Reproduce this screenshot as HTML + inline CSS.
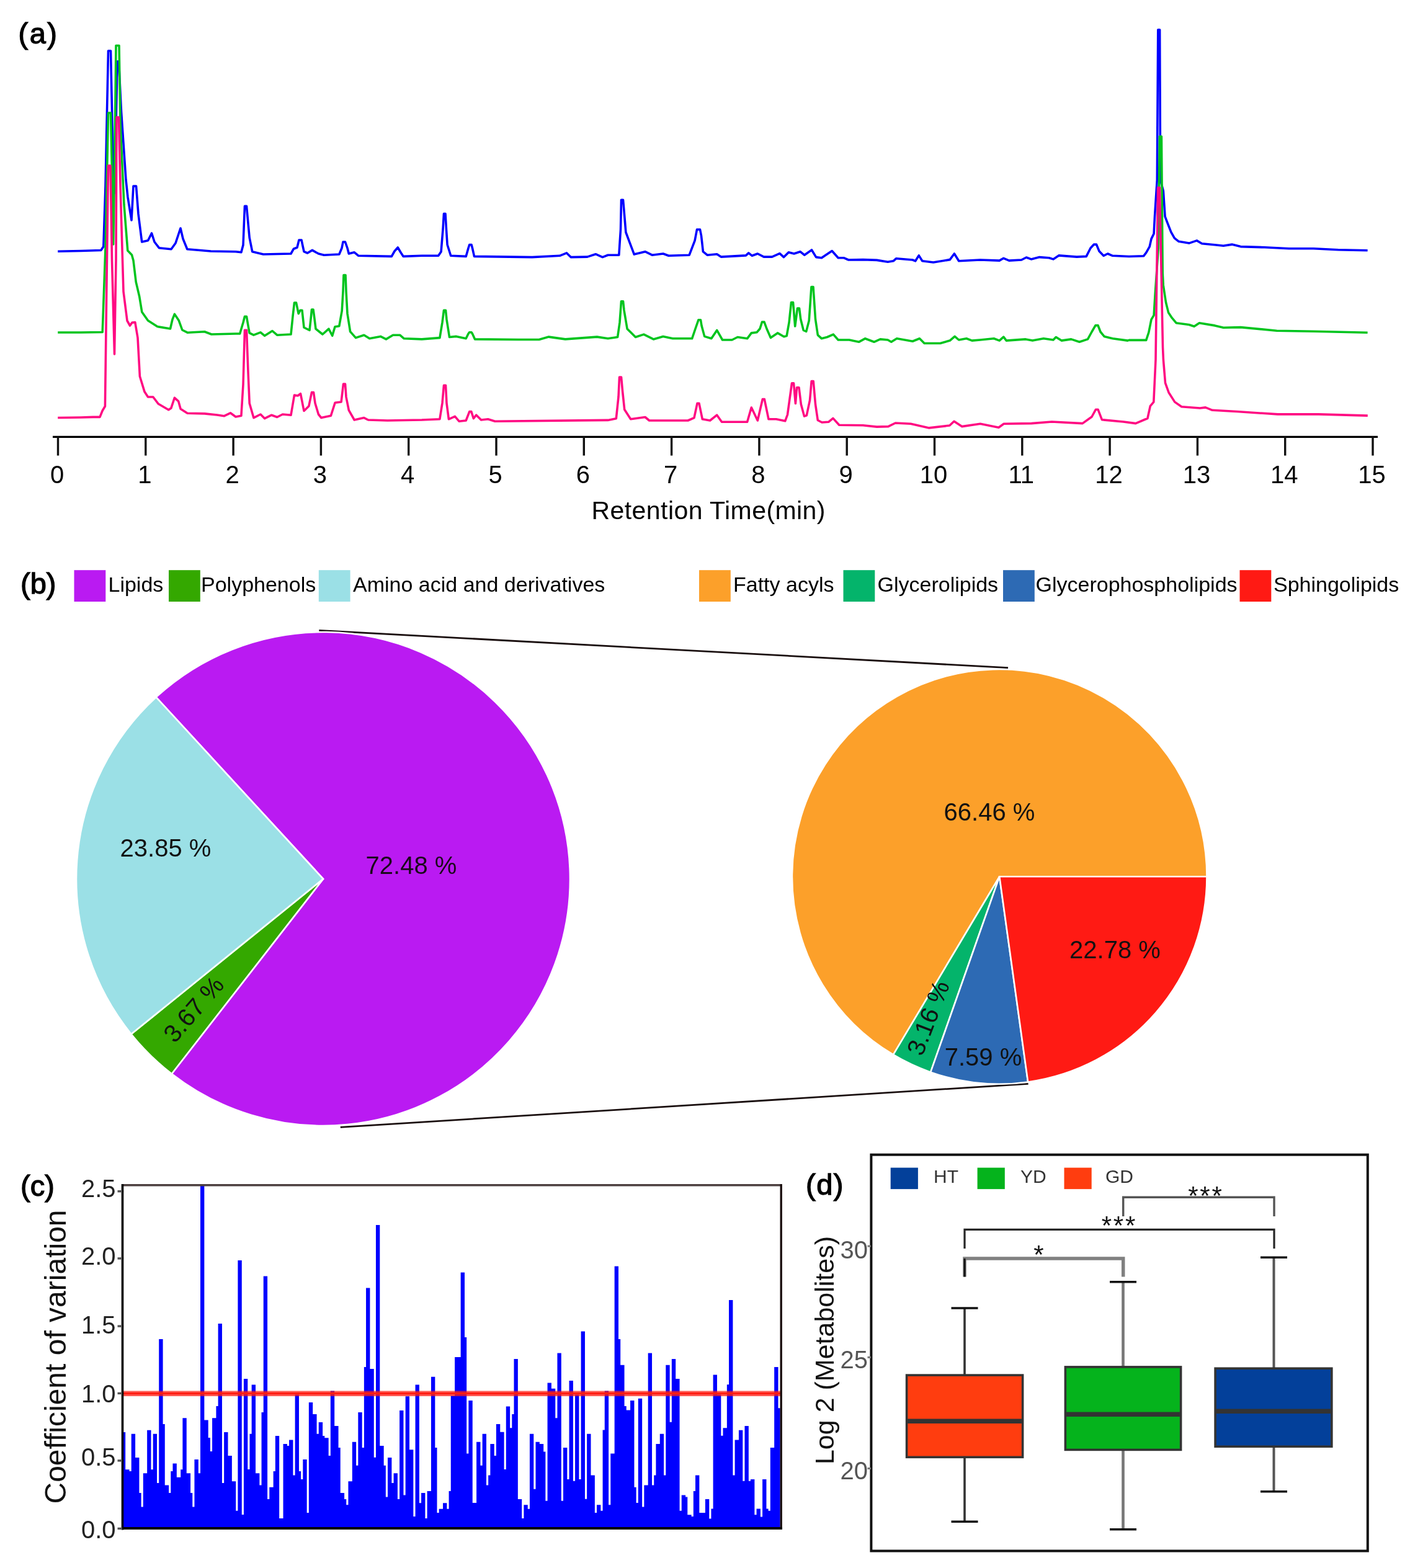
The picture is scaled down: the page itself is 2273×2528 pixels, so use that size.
<!DOCTYPE html>
<html><head><meta charset="utf-8"><title>Figure</title>
<style>
html,body{margin:0;padding:0;background:#fff;}
svg{display:block;}
text{font-family:"Liberation Sans", Arial, Helvetica, sans-serif;}
</style></head><body>
<svg width="2273" height="2528" viewBox="0 0 2273 2528">
<rect x="0" y="0" width="2273" height="2528" fill="#fff"/>
<text x="29.5" y="70" font-size="47" text-anchor="start" font-weight="normal" fill="#000" letter-spacing="2.5" stroke="#000" stroke-width="1.3">(a)</text>
<polyline fill="none" stroke="#0000FF" stroke-width="3.6" stroke-linejoin="round" points="93.2,405.2 130,404.5 162.8,403.5 166.8,397.5 170,300 174.5,82 178.5,82 181,200 184,312 187,200 189,99 191.5,99 195.5,180 203,290 206,318 209.5,340 212,355 215,300 219.5,300 223,345 228.7,390 238.6,387.8 244.5,376 249,390 256.4,399.7 276,401.7 283,392 291,368 295,385 301.8,401.7 340,405 380,405.8 388.9,406.8 392,395 394.5,332.3 397.5,332.3 400,360 402.2,383.4 406.7,405.7 424.5,410 469,409 473.4,401.2 479,399 482,387 486,387 490,405.7 495.6,408 503.4,403.4 513.4,409 522.3,411.2 546.8,410 551,400 553,390 556.5,390 560,400 562.3,409 571.2,406.8 577.9,412.3 631.3,413.4 636,405 641.3,399 646,407 650.2,413.4 680,412.3 706.7,412.3 711.1,405.7 714,370 715.5,344.5 718,344.5 719.5,370 721.1,394.5 726.7,412.3 751.2,413.4 755,400 756.8,394.5 760,394.5 761.5,400 764.5,413.4 857.9,414.6 902.4,412.3 913.5,407.9 920.2,414.6 946.8,414.1 960.2,409.7 971.3,414.6 980,411.2 997.8,411.2 1000.5,370 1001.5,322.3 1004.5,322.3 1006,340 1008.9,374.5 1015.6,392.3 1022.3,410.1 1040,405.7 1051.2,411.2 1069,409 1077.8,412.3 1111.2,411.2 1120.1,387.9 1123.5,370 1128.5,370 1130.5,380 1133.4,405.7 1140.1,411.2 1155.7,409.7 1162.3,414.1 1202.4,411.9 1206.8,407.9 1212.4,412.3 1221.3,409 1231.3,414.1 1244.6,414.1 1256.9,408.6 1263.5,414.6 1271.3,406.8 1280,409 1290,405.7 1296.7,411.2 1308.5,403 1315.6,414.6 1324.5,415.7 1331.1,411.2 1341.2,404.5 1351.2,415.7 1360,415.7 1367.8,419 1391.2,418.6 1413.4,419.4 1431.2,422.3 1440.1,420.8 1444.6,416.8 1471.2,419 1475.7,420.8 1481.2,411.9 1486.8,420.8 1504.6,423 1531.3,418.6 1538.4,409 1545.7,420.8 1580,419 1611.1,420.1 1617.8,416.3 1626.7,420.1 1646.7,419 1654.5,415 1662.3,417.9 1675.6,414.6 1691.2,415.7 1697.9,417.9 1706.8,411.9 1735.7,414.1 1751.2,413.4 1758,400 1763.5,394.1 1767.5,394.1 1772,405 1779,412.3 1785.7,409 1793.5,412.3 1820,413.5 1843.5,412.8 1847.7,407.3 1853.2,397.6 1856,385.1 1860.1,376.8 1861.5,349.2 1865.3,290 1866.8,48 1869.6,48 1870.6,290 1875.3,307.7 1878.1,349.2 1882.3,360.2 1887.8,374.1 1893.3,383.8 1900.2,389.3 1916.8,392.1 1929.3,387.9 1937.6,392.8 1958.4,394.8 1972.2,396.2 1986,394.1 2000,397.6 2038.6,398.8 2078.1,400.8 2117.6,400.8 2157.2,402.8 2204.6,403.8"/>
<polyline fill="none" stroke="#00C41E" stroke-width="3.6" stroke-linejoin="round" points="93.2,536 130,536 165.2,535.5 170,400 174.5,182 178.5,182 181,300 182.6,394 185,250 187,73.5 192,73.5 194,200 200,330 205.8,404 212.5,411 215,420 219.2,454.6 224.7,478 228.8,503 238.5,516.8 253.7,526.5 274.5,530 278,515 281.4,506.4 288.3,516.8 293.8,532 302.1,536.2 329.8,534.8 340.9,539 380,538 386.7,538 392,520 394.5,510.2 397.5,510.2 400,525 402.2,536.9 408.9,540.2 420,535.8 426.7,541.3 439,533.5 446.7,540.2 469,539 472,510 474.5,488 477.5,488 481.2,505.7 484,500.2 487,500.2 490,528 499,532.4 501.5,510 502.5,499 505,499 506.5,510 509,530.2 520,539 530,530.2 535.7,541.3 540,526.8 546.8,525.7 551.2,501.3 553,470 554,443.5 557,443.5 558,470 560,505.7 564.6,534.6 573.5,544.6 586.8,540.2 595.7,545.8 613.5,542.4 622.4,546.9 633.5,540.2 644.6,540.2 651.3,545.8 680,546.9 708.9,544.6 713,520 715.5,500.2 718.5,500.2 720,515 724.5,543.5 735.6,542.4 751.2,545.8 755,538 756.8,535.7 760,535.7 761.5,538 765.6,546.9 835.7,547.5 869,547.5 884.6,543.1 911.3,546.9 962.4,543.1 980,545.8 995.6,543.5 999,520 1001.5,485.7 1004.5,485.7 1006,500 1011.1,530.2 1024.5,543.5 1037.8,539.1 1053.4,546.9 1069,542.4 1084.5,545.8 1115.6,545.8 1121,530 1126,515.7 1129.5,515.7 1131,525 1135.7,542.4 1146.8,545.8 1155.7,532.4 1164.6,548 1180.1,548 1189,543.5 1204.6,545.8 1211.3,536.9 1220.2,535.7 1225,530 1228.5,519.1 1232,519.1 1236,530 1242.4,544.6 1253.5,536.9 1263.7,542.7 1268.2,541.4 1272.1,519.6 1275.5,487.5 1278.5,487.5 1281.7,526 1285.5,497.1 1288.5,497.1 1290.7,514.5 1295.2,532.4 1299.7,534.4 1304.2,517 1308,462.5 1311,462.5 1314.5,514.5 1318.3,540.1 1324.5,545.8 1333.4,543.5 1343.4,539.1 1351.2,548 1369,548 1384.5,551.3 1394.5,545.8 1409,551.3 1419,546.9 1431.2,548 1436.8,551.3 1445.7,545.8 1471.2,550.2 1482.4,545.8 1490.1,553.5 1515.7,553.5 1531.3,549.1 1539.1,542.4 1545.7,548 1558,545.8 1566.9,549.1 1580,548 1602.2,545.8 1611.1,549.1 1617.8,543.1 1622.3,549.1 1653.4,546.9 1664.5,549.1 1682.3,545.8 1697.9,548 1702.3,543.5 1711.2,549.1 1726.8,546.9 1740.1,551.3 1753.5,546.9 1760,535 1766,524.6 1770,524.6 1774,535 1780.1,542.4 1793.5,545.8 1817.9,549.1 1820,548.4 1847.7,548.4 1851.8,536 1856,515.2 1860.1,508.3 1862.2,473.7 1867.3,400 1869.4,220 1872.4,220 1874.2,440 1875.3,459.9 1879.5,487.5 1883.6,504.1 1889.2,512.4 1896.1,520.7 1916.8,523.5 1925.1,526.3 1933.4,520.7 1958.4,524.9 1972.2,528.3 2000,527.6 2058.3,533.2 2117.6,534.2 2204.6,536.2"/>
<polyline fill="none" stroke="#FF0A82" stroke-width="3.6" stroke-linejoin="round" points="93.2,673.5 130,673 150,672.4 161,672.4 165.2,662 169.4,655 172,450 174.5,267 178,267 180.5,420 184.5,571 187,420 188,189 191.5,189 194,300 199,470 205,517 209.5,525 213,520 217.8,519.6 222,544.5 225.4,606.7 233,631.6 238.5,640 246.8,640 255.1,651 271.7,660.7 275.9,657.9 281.4,641.3 287.6,646.8 291.1,659.3 302.1,666.2 329.8,666.9 350,669 361.5,670.7 371.4,665.8 380,672 388.9,670.3 392,620 394.5,532.4 397.5,532.4 400,600 402.2,650.3 408.9,673.6 420,668 426.7,674.7 437.8,669.2 446.7,672.5 455.6,668 469,669.2 474.5,637 480,638 484.5,634.7 490,662.5 497.9,654.7 502.5,632.5 505.5,632.5 508,650 513.4,668 517.9,673.6 533.4,670.3 540.1,649.2 550.1,648 553.5,619.1 556.5,619.1 558,640 562.3,661.4 571.2,677 586.8,673.6 593.5,677 624.6,678 680,677 708.9,675.8 713,650 715.5,621.4 718.5,621.4 720,650 723.4,675.8 733.4,671.4 740,679.2 751.2,678 756.8,663.6 759.8,663.6 763.4,674.7 767.8,669.2 775.6,677 786.7,675.8 797.9,679.2 980,677.4 993.3,674.7 997,640 998.5,608 1001.5,608 1003.5,630 1006.7,660.3 1016.7,675.8 1040,672.5 1046.7,678 1109,678 1119,673.6 1124,650.3 1127,650.3 1132.3,675.8 1144.6,678 1155.7,669.2 1163.5,680.3 1204.6,680.3 1211.3,657 1221.3,678 1229.3,643.6 1232.3,643.6 1239,675.8 1251.3,675.8 1265.7,678.8 1269.5,668.5 1276.5,617.8 1279.5,617.8 1282.4,650.5 1284.5,624.9 1288,624.9 1291.3,651.8 1296.5,671.1 1300.3,669.8 1305.5,645.4 1308.2,614.6 1311.2,614.6 1314.5,651.8 1318.3,677.5 1325,681 1335.6,680.3 1342.9,674.4 1352.8,685.3 1391.2,685.8 1413.4,688.1 1431.9,687.6 1443.4,682 1468.2,683.3 1497.8,689.9 1530.8,686 1538,679.3 1550.6,687.6 1580.3,683.3 1609.9,689.2 1618.2,683.3 1662.7,682.6 1695.6,680 1745.1,682.6 1760,672 1766.5,660.2 1770,660.2 1776.4,676.7 1811,680 1830.8,682.6 1849.9,674.5 1854.3,654.7 1859.8,648.1 1863,580 1866.6,302.5 1869.4,302.5 1874.5,560 1875.4,580 1878.5,617.4 1884,632.7 1893.8,648.1 1904.8,655.8 1934.5,658 1943.3,656.9 1954.3,661.3 1993.8,663.5 2059.8,667.9 2125.7,667.9 2204.8,670.1"/>
<line x1="85" y1="704.3" x2="2221" y2="704.3" stroke="#000" stroke-width="3.2"/>
<line x1="93.5" y1="704.3" x2="93.5" y2="734.5" stroke="#111" stroke-width="3.4"/>
<text x="92" y="779" font-size="40" text-anchor="middle" font-weight="normal" fill="#000" >0</text>
<line x1="234.8" y1="704.3" x2="234.8" y2="734.5" stroke="#111" stroke-width="3.4"/>
<text x="233.3" y="779" font-size="40" text-anchor="middle" font-weight="normal" fill="#000" >1</text>
<line x1="376.1" y1="704.3" x2="376.1" y2="734.5" stroke="#111" stroke-width="3.4"/>
<text x="374.6" y="779" font-size="40" text-anchor="middle" font-weight="normal" fill="#000" >2</text>
<line x1="517.4" y1="704.3" x2="517.4" y2="734.5" stroke="#111" stroke-width="3.4"/>
<text x="515.9" y="779" font-size="40" text-anchor="middle" font-weight="normal" fill="#000" >3</text>
<line x1="658.7" y1="704.3" x2="658.7" y2="734.5" stroke="#111" stroke-width="3.4"/>
<text x="657.2" y="779" font-size="40" text-anchor="middle" font-weight="normal" fill="#000" >4</text>
<line x1="800" y1="704.3" x2="800" y2="734.5" stroke="#111" stroke-width="3.4"/>
<text x="798.5" y="779" font-size="40" text-anchor="middle" font-weight="normal" fill="#000" >5</text>
<line x1="941.3" y1="704.3" x2="941.3" y2="734.5" stroke="#111" stroke-width="3.4"/>
<text x="939.8" y="779" font-size="40" text-anchor="middle" font-weight="normal" fill="#000" >6</text>
<line x1="1082.6" y1="704.3" x2="1082.6" y2="734.5" stroke="#111" stroke-width="3.4"/>
<text x="1081.1" y="779" font-size="40" text-anchor="middle" font-weight="normal" fill="#000" >7</text>
<line x1="1223.9" y1="704.3" x2="1223.9" y2="734.5" stroke="#111" stroke-width="3.4"/>
<text x="1222.4" y="779" font-size="40" text-anchor="middle" font-weight="normal" fill="#000" >8</text>
<line x1="1365.2" y1="704.3" x2="1365.2" y2="734.5" stroke="#111" stroke-width="3.4"/>
<text x="1363.7" y="779" font-size="40" text-anchor="middle" font-weight="normal" fill="#000" >9</text>
<line x1="1506.5" y1="704.3" x2="1506.5" y2="734.5" stroke="#111" stroke-width="3.4"/>
<text x="1505" y="779" font-size="40" text-anchor="middle" font-weight="normal" fill="#000" >10</text>
<line x1="1647.8" y1="704.3" x2="1647.8" y2="734.5" stroke="#111" stroke-width="3.4"/>
<text x="1646.3" y="779" font-size="40" text-anchor="middle" font-weight="normal" fill="#000" >11</text>
<line x1="1789.1" y1="704.3" x2="1789.1" y2="734.5" stroke="#111" stroke-width="3.4"/>
<text x="1787.6" y="779" font-size="40" text-anchor="middle" font-weight="normal" fill="#000" >12</text>
<line x1="1930.4" y1="704.3" x2="1930.4" y2="734.5" stroke="#111" stroke-width="3.4"/>
<text x="1928.9" y="779" font-size="40" text-anchor="middle" font-weight="normal" fill="#000" >13</text>
<line x1="2071.7" y1="704.3" x2="2071.7" y2="734.5" stroke="#111" stroke-width="3.4"/>
<text x="2070.2" y="779" font-size="40" text-anchor="middle" font-weight="normal" fill="#000" >14</text>
<line x1="2213" y1="704.3" x2="2213" y2="734.5" stroke="#111" stroke-width="3.4"/>
<text x="2211.5" y="779" font-size="40" text-anchor="middle" font-weight="normal" fill="#000" >15</text>
<text x="953.5" y="836.5" font-size="41" text-anchor="start" font-weight="normal" fill="#000" textLength="377" lengthAdjust="spacing">Retention Time(min)</text>
<text x="33" y="957" font-size="47" text-anchor="start" font-weight="normal" fill="#000" stroke="#000" stroke-width="1.3">(b)</text>
<rect x="119.5" y="919.2" width="50.8" height="50.8" fill="#BA1AF2"/>
<text x="174.5" y="953.6" font-size="34" text-anchor="start" font-weight="normal" fill="#000" >Lipids</text>
<rect x="272" y="919.2" width="50.8" height="50.8" fill="#34A800"/>
<text x="324" y="953.6" font-size="34" text-anchor="start" font-weight="normal" fill="#000" >Polyphenols</text>
<rect x="513.8" y="919.2" width="50.8" height="50.8" fill="#9BE0E6"/>
<text x="569" y="953.6" font-size="34" text-anchor="start" font-weight="normal" fill="#000" >Amino acid and derivatives</text>
<rect x="1127" y="919.2" width="50.8" height="50.8" fill="#FCA02A"/>
<text x="1182" y="953.6" font-size="34" text-anchor="start" font-weight="normal" fill="#000" >Fatty acyls</text>
<rect x="1359.5" y="919.2" width="50.8" height="50.8" fill="#04B46B"/>
<text x="1414.5" y="953.6" font-size="34" text-anchor="start" font-weight="normal" fill="#000" >Glycerolipids</text>
<rect x="1617" y="919.2" width="50.8" height="50.8" fill="#2D6AB4"/>
<text x="1669.5" y="953.6" font-size="34" text-anchor="start" font-weight="normal" fill="#000" >Glycerophospholipids</text>
<rect x="1998.5" y="919.2" width="50.8" height="50.8" fill="#FF1A14"/>
<text x="2053" y="953.6" font-size="34" text-anchor="start" font-weight="normal" fill="#000" >Sphingolipids</text>
<line x1="514.3" y1="1016.3" x2="1625" y2="1076.6" stroke="#1a0f0f" stroke-width="2.8"/>
<line x1="548.8" y1="1817.4" x2="1657.6" y2="1747.4" stroke="#1a0f0f" stroke-width="2.8"/>
<path d="M521,1417 L251.60,1124.03 A398,398 0 1 1 276.79,1731.27 Z" fill="#BA1AF2" stroke="#fff" stroke-width="2.6" stroke-linejoin="miter"/>
<path d="M521,1417 L276.79,1731.27 A398,398 0 0 1 211.48,1667.20 Z" fill="#34A800" stroke="#fff" stroke-width="2.6" stroke-linejoin="miter"/>
<path d="M521,1417 L211.48,1667.20 A398,398 0 0 1 251.60,1124.03 Z" fill="#9BE0E6" stroke="#fff" stroke-width="2.6" stroke-linejoin="miter"/>
<text x="663" y="1408.8" font-size="40" text-anchor="middle" font-weight="normal" fill="#1a0a1a" >72.48 %</text>
<text x="267" y="1380.7" font-size="40" text-anchor="middle" font-weight="normal" fill="#111" >23.85 %</text>
<text x="0" y="0" font-size="40" text-anchor="middle" fill="#111" transform="translate(312,1627) rotate(-49) translate(0,14)">3.67 %</text>
<path d="M1611.2,1413.3 L1440.02,1700.45 A334.3,334.3 0 1 1 1945.50,1413.30 Z" fill="#FCA02A" stroke="#fff" stroke-width="2.6" stroke-linejoin="miter"/>
<path d="M1611.2,1413.3 L1500.16,1728.62 A334.3,334.3 0 0 1 1440.02,1700.45 Z" fill="#04B46B" stroke="#fff" stroke-width="2.6" stroke-linejoin="miter"/>
<path d="M1611.2,1413.3 L1657.15,1744.43 A334.3,334.3 0 0 1 1500.16,1728.62 Z" fill="#2D6AB4" stroke="#fff" stroke-width="2.6" stroke-linejoin="miter"/>
<path d="M1611.2,1413.3 L1945.50,1413.30 A334.3,334.3 0 0 1 1657.15,1744.43 Z" fill="#FF1A14" stroke="#fff" stroke-width="2.6" stroke-linejoin="miter"/>
<text x="1595" y="1322.8" font-size="40" text-anchor="middle" font-weight="normal" fill="#111" >66.46 %</text>
<text x="1797.5" y="1545.4" font-size="40" text-anchor="middle" font-weight="normal" fill="#111" >22.78 %</text>
<text x="1585" y="1717.9" font-size="40" text-anchor="middle" font-weight="normal" fill="#111" >7.59 %</text>
<text x="0" y="0" font-size="40" text-anchor="middle" fill="#111" transform="translate(1496,1641) rotate(-69) translate(0,14)">3.16 %</text>
<text x="33" y="1928" font-size="47" text-anchor="start" font-weight="normal" fill="#000" stroke="#000" stroke-width="1.3">(c)</text>
<path d="M199,2462.5 L199.00,2309.0 L202.18,2309.0 L202.18,2369.2 L208.54,2369.2 L208.54,2372.0 L211.72,2372.0 L211.72,2311.8 L218.08,2311.8 L218.08,2350.1 L224.43,2350.1 L224.43,2407.1 L227.61,2407.1 L227.61,2429.4 L230.79,2429.4 L230.79,2375.2 L237.15,2375.2 L237.15,2305.7 L243.51,2305.7 L243.51,2369.2 L246.69,2369.2 L246.69,2311.8 L253.05,2311.8 L253.05,2391.1 L256.23,2391.1 L256.23,2159.1 L262.59,2159.1 L262.59,2296.1 L265.76,2296.1 L265.76,2394.5 L272.12,2394.5 L272.12,2407.1 L275.30,2407.1 L275.30,2372.0 L278.48,2372.0 L278.48,2359.6 L284.84,2359.6 L284.84,2381.8 L291.20,2381.8 L291.20,2369.2 L294.38,2369.2 L294.38,2286.3 L300.74,2286.3 L300.74,2375.2 L307.10,2375.2 L307.10,2407.1 L310.27,2407.1 L310.27,2429.4 L313.45,2429.4 L313.45,2353.1 L319.81,2353.1 L319.81,2375.2 L322.99,2375.2 L322.99,1909.0 L329.35,1909.0 L329.35,2289.6 L335.71,2289.6 L335.71,2318.0 L338.89,2318.0 L338.89,2340.1 L342.07,2340.1 L342.07,2286.3 L348.43,2286.3 L348.43,2267.1 L351.61,2267.1 L351.61,2133.9 L357.96,2133.9 L357.96,2391.1 L361.14,2391.1 L361.14,2309.0 L367.50,2309.0 L367.50,2347.0 L373.86,2347.0 L373.86,2388.2 L380.22,2388.2 L380.22,2435.8 L383.40,2435.8 L383.40,2032.1 L389.76,2032.1 L389.76,2442.0 L392.94,2442.0 L392.94,2223.0 L399.29,2223.0 L399.29,2368.9 L402.47,2368.9 L402.47,2311.8 L405.65,2311.8 L405.65,2232.6 L412.01,2232.6 L412.01,2375.2 L418.37,2375.2 L418.37,2394.5 L421.55,2394.5 L421.55,2277.0 L424.73,2277.0 L424.73,2057.6 L431.09,2057.6 L431.09,2416.9 L434.27,2416.9 L434.27,2397.8 L440.63,2397.8 L440.63,2372.0 L443.80,2372.0 L443.80,2315.0 L450.16,2315.0 L450.16,2448.0 L456.52,2448.0 L456.52,2327.9 L462.88,2327.9 L462.88,2330.9 L466.06,2330.9 L466.06,2321.4 L472.42,2321.4 L472.42,2378.5 L475.60,2378.5 L475.60,2248.4 L481.96,2248.4 L481.96,2372.0 L485.14,2372.0 L485.14,2384.9 L488.31,2384.9 L488.31,2353.1 L494.67,2353.1 L494.67,2439.1 L497.85,2439.1 L497.85,2261.0 L504.21,2261.0 L504.21,2280.0 L510.57,2280.0 L510.57,2311.8 L513.75,2311.8 L513.75,2292.9 L520.11,2292.9 L520.11,2315.0 L523.29,2315.0 L523.29,2318.3 L529.65,2318.3 L529.65,2347.0 L532.82,2347.0 L532.82,2242.6 L539.18,2242.6 L539.18,2299.0 L545.54,2299.0 L545.54,2334.1 L548.72,2334.1 L548.72,2407.1 L555.08,2407.1 L555.08,2416.9 L558.26,2416.9 L558.26,2426.2 L561.44,2426.2 L561.44,2388.2 L567.80,2388.2 L567.80,2324.7 L574.15,2324.7 L574.15,2362.7 L577.33,2362.7 L577.33,2277.0 L583.69,2277.0 L583.69,2334.1 L586.87,2334.1 L586.87,2204.1 L590.05,2204.1 L590.05,2076.6 L596.41,2076.6 L596.41,2206.9 L602.77,2206.9 L602.77,2349.8 L605.95,2349.8 L605.95,1975.1 L612.31,1975.1 L612.31,2330.9 L618.66,2330.9 L618.66,2362.7 L621.84,2362.7 L621.84,2413.6 L625.02,2413.6 L625.02,2350.1 L631.38,2350.1 L631.38,2391.1 L634.56,2391.1 L634.56,2375.2 L640.92,2375.2 L640.92,2416.9 L644.10,2416.9 L644.10,2273.9 L650.46,2273.9 L650.46,2410.4 L653.64,2410.4 L653.64,2251.2 L660.00,2251.2 L660.00,2337.2 L666.35,2337.2 L666.35,2445.1 L669.53,2445.1 L669.53,2232.6 L675.89,2232.6 L675.89,2423.2 L679.07,2423.2 L679.07,2407.1 L685.43,2407.1 L685.43,2448.0 L688.61,2448.0 L688.61,2404.0 L694.97,2404.0 L694.97,2219.8 L701.33,2219.8 L701.33,2334.1 L704.51,2334.1 L704.51,2439.1 L707.68,2439.1 L707.68,2432.7 L714.04,2432.7 L714.04,2423.2 L720.40,2423.2 L720.40,2432.7 L723.58,2432.7 L723.58,2404.0 L726.76,2404.0 L726.76,2250.2 L733.12,2250.2 L733.12,2188.0 L742.66,2188.0 L742.66,2051.4 L749.02,2051.4 L749.02,2156.1 L752.19,2156.1 L752.19,2343.4 L755.37,2343.4 L755.37,2258.1 L761.73,2258.1 L761.73,2422.9 L768.09,2422.9 L768.09,2324.7 L774.45,2324.7 L774.45,2362.7 L777.63,2362.7 L777.63,2311.8 L783.99,2311.8 L783.99,2394.5 L787.17,2394.5 L787.17,2378.5 L790.35,2378.5 L790.35,2327.9 L796.70,2327.9 L796.70,2347.0 L799.88,2347.0 L799.88,2296.1 L806.24,2296.1 L806.24,2308.7 L812.60,2308.7 L812.60,2368.9 L815.78,2368.9 L815.78,2267.4 L822.14,2267.4 L822.14,2302.2 L825.32,2302.2 L825.32,2280.0 L828.50,2280.0 L828.50,2191.0 L834.86,2191.0 L834.86,2416.9 L841.21,2416.9 L841.21,2448.0 L844.39,2448.0 L844.39,2426.2 L850.75,2426.2 L850.75,2432.7 L853.93,2432.7 L853.93,2311.8 L860.29,2311.8 L860.29,2400.7 L863.47,2400.7 L863.47,2324.7 L869.83,2324.7 L869.83,2327.9 L876.19,2327.9 L876.19,2340.5 L879.37,2340.5 L879.37,2419.8 L882.55,2419.8 L882.55,2229.4 L888.90,2229.4 L888.90,2238.8 L895.26,2238.8 L895.26,2286.3 L898.44,2286.3 L898.44,2181.5 L904.80,2181.5 L904.80,2419.8 L907.98,2419.8 L907.98,2334.1 L914.34,2334.1 L914.34,2384.9 L917.52,2384.9 L917.52,2226.1 L923.88,2226.1 L923.88,2387.8 L927.05,2387.8 L927.05,2248.4 L933.41,2248.4 L933.41,2384.9 L936.59,2384.9 L936.59,2146.6 L942.95,2146.6 L942.95,2416.7 L946.13,2416.7 L946.13,2311.8 L952.49,2311.8 L952.49,2378.5 L958.85,2378.5 L958.85,2439.0 L962.03,2439.0 L962.03,2426.2 L968.39,2426.2 L968.39,2435.8 L971.56,2435.8 L971.56,2305.4 L974.74,2305.4 L974.74,2242.6 L981.10,2242.6 L981.10,2426.2 L984.28,2426.2 L984.28,2343.4 L990.64,2343.4 L990.64,2041.6 L997.00,2041.6 L997.00,2159.1 L1000.18,2159.1 L1000.18,2200.8 L1006.54,2200.8 L1006.54,2267.1 L1009.72,2267.1 L1009.72,2273.6 L1016.07,2273.6 L1016.07,2258.1 L1022.43,2258.1 L1022.43,2397.8 L1025.61,2397.8 L1025.61,2422.9 L1028.79,2422.9 L1028.79,2254.8 L1035.15,2254.8 L1035.15,2429.4 L1038.33,2429.4 L1038.33,2394.5 L1044.69,2394.5 L1044.69,2181.5 L1051.05,2181.5 L1051.05,2394.5 L1054.23,2394.5 L1054.23,2378.5 L1057.41,2378.5 L1057.41,2327.9 L1063.76,2327.9 L1063.76,2311.8 L1070.12,2311.8 L1070.12,2378.5 L1073.30,2378.5 L1073.30,2200.8 L1079.66,2200.8 L1079.66,2292.8 L1082.84,2292.8 L1082.84,2191.0 L1089.20,2191.0 L1089.20,2223.0 L1095.56,2223.0 L1095.56,2435.8 L1098.74,2435.8 L1098.74,2410.4 L1105.09,2410.4 L1105.09,2413.6 L1108.27,2413.6 L1108.27,2442.2 L1114.63,2442.2 L1114.63,2445.1 L1117.81,2445.1 L1117.81,2404.0 L1120.99,2404.0 L1120.99,2378.5 L1127.35,2378.5 L1127.35,2438.9 L1136.89,2438.9 L1136.89,2416.9 L1143.25,2416.9 L1143.25,2448.4 L1146.43,2448.4 L1146.43,2432.6 L1149.60,2432.6 L1149.60,2216.5 L1155.96,2216.5 L1155.96,2248.5 L1162.32,2248.5 L1162.32,2314.7 L1165.50,2314.7 L1165.50,2302.2 L1171.86,2302.2 L1171.86,2232.3 L1175.04,2232.3 L1175.04,2095.9 L1181.40,2095.9 L1181.40,2378.5 L1184.58,2378.5 L1184.58,2321.4 L1190.94,2321.4 L1190.94,2305.7 L1197.29,2305.7 L1197.29,2387.8 L1200.47,2387.8 L1200.47,2298.9 L1206.83,2298.9 L1206.83,2387.8 L1210.01,2387.8 L1210.01,2384.9 L1216.37,2384.9 L1216.37,2442.2 L1219.55,2442.2 L1219.55,2432.6 L1225.91,2432.6 L1225.91,2445.5 L1229.09,2445.5 L1229.09,2384.9 L1235.45,2384.9 L1235.45,2432.6 L1238.62,2432.6 L1238.62,2435.8 L1241.80,2435.8 L1241.80,2334.0 L1248.16,2334.0 L1248.16,2203.9 L1254.52,2203.9 L1254.52,2270.3 L1257.70,2270.3 L1257.70,2462.5 Z" fill="#0000FF" stroke="none"/>
<line x1="199" y1="2246.7" x2="1258" y2="2246.7" stroke="#FF1E14" stroke-width="8.4" opacity="0.72"/>
<line x1="199" y1="2246.7" x2="1258" y2="2246.7" stroke="#FF1E14" stroke-width="3.2"/>
<line x1="196" y1="1910.8" x2="1260" y2="1910.8" stroke="#4d4040" stroke-width="3.6"/>
<line x1="1259.2" y1="1909" x2="1259.2" y2="2466" stroke="#1a0f0f" stroke-width="3.4"/>
<line x1="197.5" y1="1909" x2="197.5" y2="2466.5" stroke="#000" stroke-width="3.6"/>
<line x1="196" y1="2464" x2="1261" y2="2464" stroke="#000" stroke-width="4.2"/>
<line x1="189.5" y1="2464.4" x2="197" y2="2464.4" stroke="#555" stroke-width="3.4"/>
<text x="186.5" y="2480.3" font-size="40" text-anchor="end" font-weight="normal" fill="#222" >0.0</text>
<line x1="189.5" y1="2354.9" x2="197" y2="2354.9" stroke="#555" stroke-width="3.4"/>
<text x="186.5" y="2362.7" font-size="40" text-anchor="end" font-weight="normal" fill="#222" >0.5</text>
<line x1="189.5" y1="2246.4" x2="197" y2="2246.4" stroke="#555" stroke-width="3.4"/>
<text x="186.5" y="2260.8" font-size="40" text-anchor="end" font-weight="normal" fill="#222" >1.0</text>
<line x1="189.5" y1="2138.1" x2="197" y2="2138.1" stroke="#555" stroke-width="3.4"/>
<text x="186.5" y="2149.6" font-size="40" text-anchor="end" font-weight="normal" fill="#222" >1.5</text>
<line x1="189.5" y1="2028.9" x2="197" y2="2028.9" stroke="#555" stroke-width="3.4"/>
<text x="186.5" y="2038.5" font-size="40" text-anchor="end" font-weight="normal" fill="#222" >2.0</text>
<line x1="189.5" y1="1920.7" x2="197" y2="1920.7" stroke="#555" stroke-width="3.4"/>
<text x="186.5" y="1930" font-size="40" text-anchor="end" font-weight="normal" fill="#222" >2.5</text>
<text x="0" y="0" font-size="48" text-anchor="middle" fill="#111" transform="translate(106,2187.5) rotate(-90)">Coefficient of variation</text>
<text x="1299" y="1926" font-size="47" text-anchor="start" font-weight="normal" fill="#000" letter-spacing="1.5" stroke="#000" stroke-width="1.3">(d)</text>
<rect x="1404.4" y="1861.7" width="800.4" height="638.8" fill="none" stroke="#111" stroke-width="4"/>
<rect x="1435.7" y="1882.6" width="44.2" height="34.5" fill="#03409A"/>
<text x="1505" y="1907.4" font-size="30" text-anchor="start" font-weight="normal" fill="#333" >HT</text>
<rect x="1575.6" y="1882.6" width="44.2" height="34.5" fill="#05B31C"/>
<text x="1645" y="1907.4" font-size="30" text-anchor="start" font-weight="normal" fill="#333" >YD</text>
<rect x="1715.5" y="1882.6" width="44.2" height="34.5" fill="#FF3D0F"/>
<text x="1782" y="1907.4" font-size="30" text-anchor="start" font-weight="normal" fill="#333" >GD</text>
<line x1="1398.5" y1="2009.1" x2="1404" y2="2009.1" stroke="#777" stroke-width="3"/>
<text x="1399" y="2028.8" font-size="40" text-anchor="end" font-weight="normal" fill="#555" >30</text>
<line x1="1398.5" y1="2188.3" x2="1404" y2="2188.3" stroke="#777" stroke-width="3"/>
<text x="1399" y="2206.4" font-size="40" text-anchor="end" font-weight="normal" fill="#555" >25</text>
<line x1="1398.5" y1="2367.5" x2="1404" y2="2367.5" stroke="#777" stroke-width="3"/>
<text x="1399" y="2385" font-size="40" text-anchor="end" font-weight="normal" fill="#555" >20</text>
<text x="0" y="0" font-size="43" text-anchor="middle" fill="#111" transform="translate(1344,2177) rotate(-90)">Log 2 (Metabolites)</text>
<line x1="1555" y1="2109" x2="1555" y2="2453.3" stroke="#333" stroke-width="3.6"/>
<line x1="1533.5" y1="2109" x2="1576.5" y2="2109" stroke="#111" stroke-width="3.6"/>
<line x1="1533.5" y1="2453.3" x2="1576.5" y2="2453.3" stroke="#111" stroke-width="3.6"/>
<rect x="1461.6" y="2217.1" width="187" height="132.2" fill="#FF3D0F" stroke="#333" stroke-width="3.6"/>
<line x1="1461.6" y1="2291.2" x2="1648.6" y2="2291.2" stroke="#333" stroke-width="7.6"/>
<line x1="1810.5" y1="2066.8" x2="1810.5" y2="2465.8" stroke="#777" stroke-width="4.6"/>
<line x1="1789.0" y1="2066.8" x2="1832.0" y2="2066.8" stroke="#111" stroke-width="3.6"/>
<line x1="1789.0" y1="2465.8" x2="1832.0" y2="2465.8" stroke="#111" stroke-width="3.6"/>
<rect x="1717.4" y="2203.9" width="186.2" height="133.5" fill="#05B31C" stroke="#333" stroke-width="3.6"/>
<line x1="1717.4" y1="2280.2" x2="1903.6" y2="2280.2" stroke="#333" stroke-width="7.6"/>
<line x1="2053.5" y1="2027.2" x2="2053.5" y2="2404.8" stroke="#555" stroke-width="4"/>
<line x1="2032.0" y1="2027.2" x2="2075.0" y2="2027.2" stroke="#111" stroke-width="3.6"/>
<line x1="2032.0" y1="2404.8" x2="2075.0" y2="2404.8" stroke="#111" stroke-width="3.6"/>
<rect x="1959.1" y="2206.2" width="187.7" height="126" fill="#03409A" stroke="#333" stroke-width="3.6"/>
<line x1="1959.1" y1="2275.2" x2="2146.8" y2="2275.2" stroke="#333" stroke-width="7.6"/>
<polyline points="1555,2058.5 1555,2029 1810.7,2029 1810.7,2058.5" fill="none" stroke="#808080" stroke-width="5.5"/>
<line x1="1555" y1="2029" x2="1555" y2="2058.5" stroke="#111" stroke-width="3"/>
<text x="1674.5" y="2036.5" font-size="42" text-anchor="middle" font-weight="normal" fill="#111" >*</text>
<polyline points="1555,2013 1555,1982.4 2054,1982.4 2054,2013" fill="none" stroke="#262626" stroke-width="3.2"/>
<text x="1804.5" y="1989.5" font-size="42" text-anchor="middle" font-weight="normal" fill="#111" letter-spacing="2.9">***</text>
<polyline points="1810.7,1961 1810.7,1930.2 2054,1930.2 2054,1961" fill="none" stroke="#555" stroke-width="3.4"/>
<text x="1944" y="1942" font-size="42" text-anchor="middle" font-weight="normal" fill="#111" letter-spacing="2.9">***</text>
</svg>
</body></html>
